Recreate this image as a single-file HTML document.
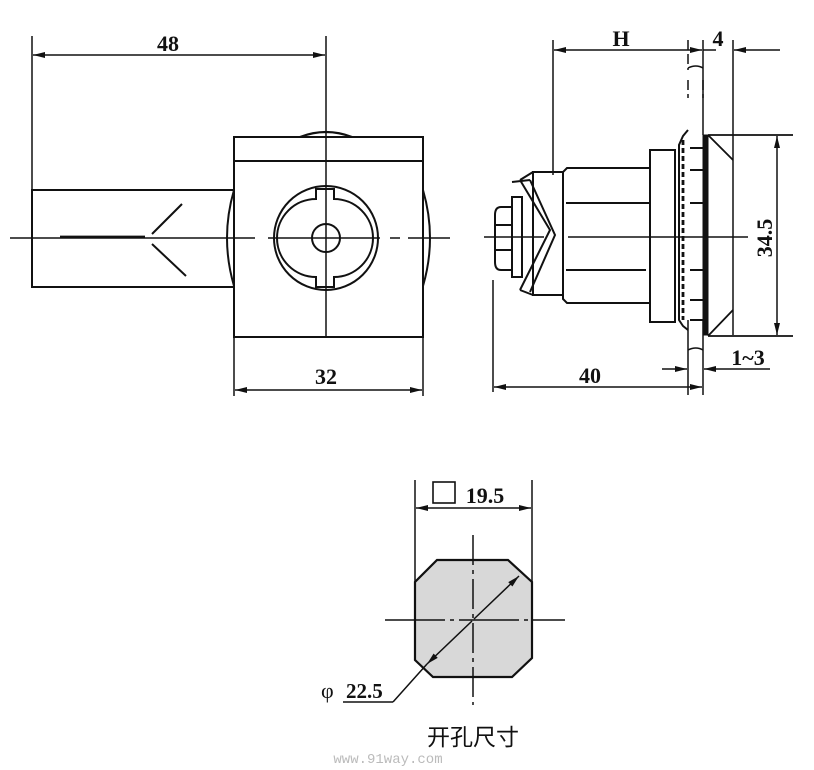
<!DOCTYPE html>
<html><head><meta charset="utf-8"><style>
html,body{margin:0;padding:0;background:#fff}
svg{display:block}
text{font-family:"Liberation Serif",serif;font-weight:bold;fill:#111}
</style></head><body>
<svg width="814" height="770" viewBox="0 0 814 770" xmlns="http://www.w3.org/2000/svg">
<defs>
<marker id="a" viewBox="0 0 12 6" refX="12" refY="3" markerWidth="13" markerHeight="6" orient="auto-start-reverse" markerUnits="userSpaceOnUse"><path d="M0,0 L12,3 L0,6 Z" fill="#111"/></marker>
</defs>
<g stroke="#111" fill="none" stroke-width="1.5">
<!-- LEFT VIEW -->
<line x1="32" y1="36" x2="32" y2="287"/>
<line x1="326" y1="36" x2="326" y2="336"/>
<line x1="33" y1="55" x2="325" y2="55" marker-start="url(#a)" marker-end="url(#a)"/>
<rect x="234" y="137" width="189" height="200" stroke-width="2"/>
<line x1="234" y1="161" x2="423" y2="161" stroke-width="2"/>
<path d="M300,137 Q326,127 352,137" stroke-width="2.2"/>
<rect x="32" y="190" width="202" height="97" stroke-width="2"/>
<line x1="182" y1="204" x2="152" y2="234" stroke-width="2"/>
<line x1="152" y1="244" x2="186" y2="276" stroke-width="2"/>
<line x1="60" y1="237" x2="145" y2="237" stroke-width="2.8"/>
<path d="M234,190 Q220,238 234,286" stroke-width="2"/>
<path d="M423,190 Q437,238 423,286" stroke-width="2"/>
<line x1="10" y1="238" x2="255" y2="238"/>
<line x1="268" y1="238" x2="380" y2="238"/>
<line x1="390" y1="238" x2="400" y2="238"/>
<line x1="408" y1="238" x2="450" y2="238"/>
<circle cx="326" cy="238" r="52" stroke-width="2"/>
<path d="M316,189 h18 v10 a33,33 0 0 1 0,78 v10 h-18 v-10 a33,33 0 0 1 0,-78 z" stroke-width="2"/>
<circle cx="326" cy="238" r="14" stroke-width="2"/>
<line x1="234" y1="337" x2="234" y2="396"/>
<line x1="423" y1="337" x2="423" y2="396"/>
<line x1="235" y1="390" x2="422" y2="390" marker-start="url(#a)" marker-end="url(#a)"/>

<!-- RIGHT VIEW -->
<line x1="553" y1="40" x2="553" y2="175"/>
<line x1="554" y1="50" x2="702" y2="50" marker-start="url(#a)" marker-end="url(#a)"/>
<line x1="733" y1="40" x2="733" y2="335"/>
<line x1="780" y1="50" x2="734" y2="50" marker-end="url(#a)"/>
<line x1="703" y1="50" x2="716" y2="50"/>
<line x1="703" y1="40" x2="703" y2="135"/>
<path d="M688,40 v30 M688,80 v18 M703,80 v18" stroke-dasharray="10 4"/>
<path d="M688,68 q8,-4 15,0"/>
<line x1="688" y1="320" x2="688" y2="395"/>
<line x1="703" y1="320" x2="703" y2="395"/>
<path d="M688,350 q8,-4 15,0"/>
<!-- flange -->
<rect x="703" y="135" width="5" height="200" fill="#111" stroke-width="1"/>
<path d="M708,135 L733,160 M708,336 L733,310 M708,135 H793 M708,336 H793" stroke-width="1.8"/>
<line x1="777" y1="136" x2="777" y2="335" marker-start="url(#a)" marker-end="url(#a)"/>
<!-- washer -->
<path d="M688,130 L683,136 L679,145 L679,320 L683,326 L688,330" stroke-width="2"/>
<path d="M683,140 v180" stroke-dasharray="5 3" stroke-width="2.8"/>
<path d="M690,148 h13 M690,170 h13 M690,203 h13 M690,270 h13 M690,300 h13 M690,320 h13" stroke-width="2"/>
<rect x="650" y="150" width="25" height="172" stroke-width="2"/>
<path d="M650,168 H567 L563,172 V299 L567,303 H650" stroke-width="2"/>
<line x1="566" y1="203" x2="650" y2="203" stroke-width="2"/>
<line x1="566" y1="270" x2="646" y2="270" stroke-width="2"/>
<path d="M563,172 H533 V295 H563" stroke-width="2"/>
<path d="M533,172 L520,180 M520,180 L550,230 L520,290 M533,295 L520,290 M512,182 L530,180" stroke-width="2"/>
<path d="M530,180 L555,235 L530,292" stroke-width="2"/>
<rect x="512" y="197" width="10" height="80" stroke-width="2"/>
<path d="M512,207 H501 Q495,207 495,215 V262 Q495,270 501,270 H512 M496,225 H512 M496,250 H512" stroke-width="2"/>
<line x1="484" y1="237" x2="544" y2="237"/>
<line x1="568" y1="237" x2="748" y2="237"/>
<line x1="493" y1="280" x2="493" y2="392"/>
<line x1="494" y1="387" x2="702" y2="387" marker-start="url(#a)" marker-end="url(#a)"/>
<line x1="662" y1="369" x2="687" y2="369" marker-end="url(#a)"/>
<line x1="770" y1="369" x2="704" y2="369" marker-end="url(#a)"/>

<!-- BOTTOM -->
<line x1="415" y1="480" x2="415" y2="590"/>
<line x1="532" y1="480" x2="532" y2="590"/>
<line x1="416" y1="508" x2="531" y2="508" marker-start="url(#a)" marker-end="url(#a)"/>
<rect x="433" y="482" width="22" height="21" stroke-width="1.6"/>
<path d="M437,560 H508 L532,582 V658 L512,677 H433 L415,660 V582 Z" fill="#d8d8d8" stroke-width="2.2"/>
<line x1="473" y1="535" x2="473" y2="705" stroke-dasharray="30 5 4 5"/>
<line x1="385" y1="620" x2="565" y2="620" stroke-dasharray="60 5 4 5"/>
<line x1="474" y1="619" x2="519" y2="576" marker-end="url(#a)"/>
<line x1="472" y1="621" x2="427" y2="664" marker-end="url(#a)"/>
<line x1="427" y1="664" x2="393" y2="702"/>
<line x1="393" y1="702" x2="343" y2="702"/>
</g>
<text x="168" y="51" font-size="22" text-anchor="middle">48</text>
<text x="326" y="384" font-size="22" text-anchor="middle">32</text>
<text x="621" y="46" font-size="22" text-anchor="middle">H</text>
<text x="718" y="46" font-size="22" text-anchor="middle">4</text>
<text x="590" y="383" font-size="22" text-anchor="middle">40</text>
<text x="748" y="365" font-size="22" text-anchor="middle">1~3</text>
<text transform="translate(772,238) rotate(-90)" font-size="22" text-anchor="middle">34.5</text>
<text x="485" y="503" font-size="22" text-anchor="middle">19.5</text>
<text x="321" y="698" font-size="22" style="font-weight:normal">φ</text>
<text x="346" y="698" font-size="21">22.5</text>
<text x="473" y="745" font-size="23" text-anchor="middle" style="font-family:'Noto Sans CJK SC',sans-serif;font-weight:normal">开孔尺寸</text>
<text x="388" y="763" font-size="14" text-anchor="middle" style="font-family:'Liberation Mono',monospace;font-weight:normal;fill:#bbb">www.91way.com</text>
</svg>
</body></html>
